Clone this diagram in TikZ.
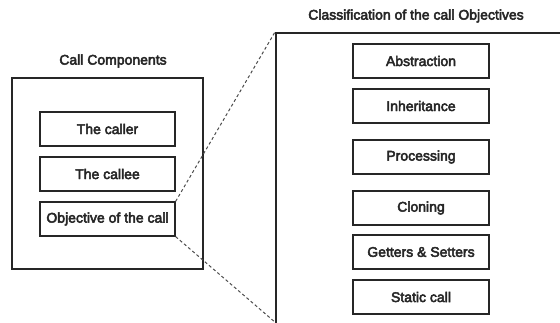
\documentclass[tikz,border=0pt]{standalone}
\usepackage{fontspec}
\setmainfont{Liberation Sans}
\newfontfamily\labelfont[FakeBold=3.5]{Liberation Sans}
\begin{document}
\begin{tikzpicture}[x=1pt,y=-1pt,
  frame/.style={draw=black!85, line width=2pt, inner sep=0pt},
  item/.style={draw=black!85, line width=1.3pt, minimum width=135pt, minimum height=34pt,
    inner sep=0pt, font=\labelfont\fontsize{14}{16}\selectfont, text=black!85},
  heading/.style={font=\labelfont\fontsize{14}{16}\selectfont, text=black!85},
  link/.style={draw=black!70, line width=1pt, dash pattern=on 3pt off 2.5pt}]
\useasboundingbox (0,0) rectangle (560,323);
\clip (0,0) rectangle (560,323);

% left panel: the parts of a call
\node[heading] (comptitle) at (113,61) {Call Components};
\node[frame, minimum width=191pt, minimum height=191pt] (comp) at (107.5,173.5) {};
\node[item] (caller) at (107.5,129) {The caller};
\node[item] (callee) at (107.5,174) {The callee};
\node[item] (objective) at (107.5,219) {Objective of the call};

% right panel: kinds of call objectives (runs off the page edge)
\node[heading] (clstitle) at (416,16) {Classification of the call Objectives};
\node[frame, minimum width=324pt, minimum height=327pt] (cls) at (438,196.5) {};
\node[item, minimum width=136pt] (abstraction) at (421,61) {Abstraction};
\node[item, minimum width=136pt] (inheritance) at (421,106) {Inheritance};
\node[item, minimum width=136pt] (processing) at (421,157) {Processing};
\node[item, minimum width=136pt] (cloning) at (421,208) {Cloning};
\node[item, minimum width=136pt] (getset) at (421,252) {Getters \& Setters};
\node[item, minimum width=136pt] (static) at (421,297) {Static call};

% zoom lines from the objective box to the right panel
\coordinate (zoomend) at (276,323);
\draw[link] (objective.north east) -- (cls.north west);
\draw[link] (objective.south east) -- (zoomend);
\end{tikzpicture}
\end{document}
